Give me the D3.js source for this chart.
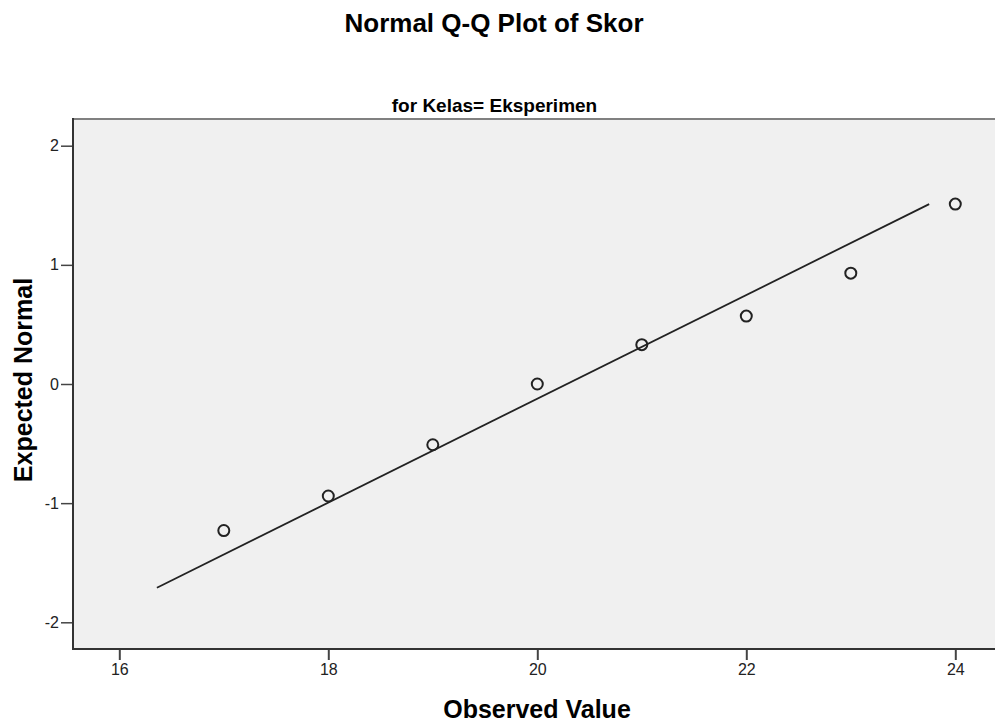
<!DOCTYPE html>
<meta charset="utf-8">
<style>
  body { margin: 0; background: #fff; }
  text { font-family: "Liberation Sans", Arial, sans-serif; }
</style>
<script src="https://d3js.org/d3.v7.min.js"></script>
<div id="chart"></div>
<script>
  // observed scores and their expected normal values
  var observed = [17, 18, 19, 20, 21, 22, 23, 24];
  var expected = [-1.23, -0.94, -0.51, 0.0, 0.33, 0.57, 0.93, 1.51];
  // reference line end points
  var lineX = [16.36, 23.75];
  var lineY = [-1.71, 1.51];
  var xTicks = [16, 18, 20, 22, 24];
  var yTicks = [-2, -1, 0, 1, 2];

  var width = 995, height = 724;
  var plotLeft = 73, plotTop = 119, plotRight = 995, plotBottom = 649;

  var svg = d3.select("#chart").append("svg")
    .attr("width", width)
    .attr("height", height);

  // 16 -> 119.3, 24 -> 955.3
  var x = d3.scaleLinear().domain([16, 24]).range([119.3, 955.3]);
  // 2 -> 145.7, -2 -> 622.3
  var y = d3.scaleLinear().domain([-2, 2]).range([622.3, 145.7]);

  svg.append("rect")
    .attr("x", plotLeft).attr("y", plotTop)
    .attr("width", plotRight - plotLeft).attr("height", plotBottom - plotTop)
    .attr("fill", "#f0f0f0");

  // top frame line
  svg.append("line")
    .attr("x1", plotLeft).attr("x2", plotRight).attr("y1", plotTop).attr("y2", plotTop)
    .attr("stroke", "#808080").attr("stroke-width", 2);

  var fmt = function(d) { return String(d); };

  var xAxis = svg.append("g")
    .attr("transform", "translate(0," + plotBottom + ")")
    .call(d3.axisBottom(x).tickValues(xTicks).tickFormat(fmt).tickSize(11).tickPadding(4));
  xAxis.select(".domain").remove();
  xAxis.selectAll(".tick line").attr("stroke", "#444").attr("stroke-width", 2);

  var yAxis = svg.append("g")
    .attr("transform", "translate(" + plotLeft + ",0)")
    .call(d3.axisLeft(y).tickValues(yTicks).tickFormat(fmt).tickSize(12).tickPadding(2));
  yAxis.select(".domain").remove();
  yAxis.selectAll(".tick line").attr("stroke", "#444").attr("stroke-width", 1.5);

  svg.selectAll(".tick text")
    .style("font-family", "'Liberation Sans', Arial, sans-serif")
    .style("font-size", "16px")
    .attr("fill", "#222");

  svg.append("line")
    .attr("x1", plotLeft).attr("x2", plotRight).attr("y1", plotBottom).attr("y2", plotBottom)
    .attr("stroke", "#333").attr("stroke-width", 2);
  svg.append("line")
    .attr("x1", plotLeft).attr("x2", plotLeft).attr("y1", plotTop - 1).attr("y2", plotBottom + 1)
    .attr("stroke", "#333").attr("stroke-width", 2);

  // reference line
  svg.append("line")
    .attr("x1", x(lineX[0])).attr("y1", y(lineY[0]))
    .attr("x2", x(lineX[1])).attr("y2", y(lineY[1]))
    .attr("stroke", "#222").attr("stroke-width", 1.8);

  // points
  svg.selectAll("circle.pt")
    .data(observed)
    .enter().append("circle")
      .attr("class", "pt")
      .attr("cx", function(d) { return x(d); })
      .attr("cy", function(d, i) { return y(expected[i]); })
      .attr("r", 5.5)
      .attr("fill", "none")
      .attr("stroke", "#222")
      .attr("stroke-width", 2);

  // titles
  svg.append("text")
    .attr("x", 494).attr("y", 32)
    .attr("text-anchor", "middle")
    .style("font-size", "26px").style("font-weight", "bold")
    .text("Normal Q-Q Plot of Skor");

  svg.append("text")
    .attr("x", 494.5).attr("y", 112)
    .attr("text-anchor", "middle")
    .style("font-size", "19px").style("font-weight", "bold")
    .text("for Kelas= Eksperimen");

  svg.append("text")
    .attr("transform", "translate(32,380) rotate(-90)")
    .attr("text-anchor", "middle")
    .style("font-size", "25px").style("font-weight", "bold")
    .text("Expected Normal");

  svg.append("text")
    .attr("x", 537).attr("y", 718)
    .attr("text-anchor", "middle")
    .style("font-size", "25px").style("font-weight", "bold")
    .text("Observed Value");
</script>
